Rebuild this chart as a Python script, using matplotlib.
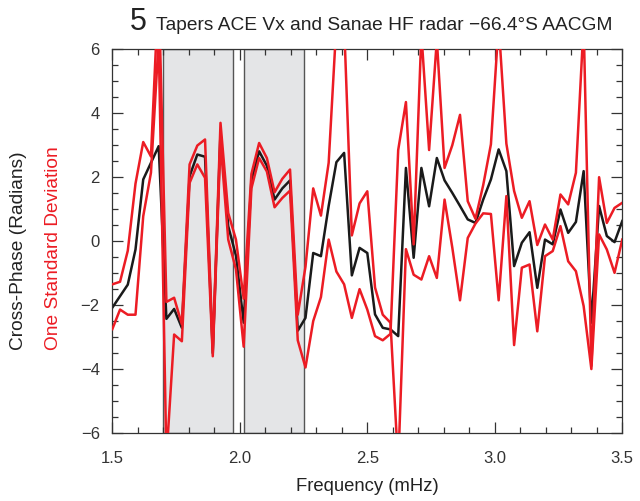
import numpy as np
import matplotlib
matplotlib.use("Agg")
import matplotlib.pyplot as plt
from matplotlib.ticker import MultipleLocator

# frequency grid (mHz), 67 evenly spaced bins from 1.5 to 3.5
freq = np.linspace(1.5, 3.5, 67)

# cross-phase (radians)
phase = [-2.08, -1.72, -1.36, -0.26, 1.93, 2.45, 2.97, -2.43, -2.12, -2.71,
         2.03, 2.71, 2.64, -3.50, 3.40, 0.47, -0.45, -2.55, 1.90, 2.81,
         2.36, 1.30, 1.65, 1.90, -2.80, -2.40, -0.37, -0.47, 1.10, 2.47,
         2.76, -1.07, -0.21, -0.37, -2.29, -2.71, -2.76, -2.97, 2.29, -0.52,
         2.29, 1.09, 2.60, 1.90, 1.51, 1.10, 0.68, 0.57, 1.30, 1.93,
         2.87, 2.19, -0.78, -0.05, 0.28, -1.46, 0.05, -0.10, 0.99, 0.26,
         0.60, 2.19, -2.55, 1.10, 0.16, -0.03, 0.63]

# one standard deviation curves
sd_1 = [-1.35, -1.27, -0.30, 1.80, 3.10, 2.65, 8.00, -1.90, -1.77, -2.60,
        2.40, 2.99, 3.18, -3.40, 3.70, 0.88, 0.05, -1.80, 2.10, 3.07,
        2.60, 1.53, 1.95, 2.24, -2.30, -0.80, 1.65, 0.80, 2.45, 6.80,
        6.80, 0.18, 1.18, 1.56, -1.45, -2.30, -2.55, -7.00, -0.25, -1.05,
        -1.20, -0.47, -1.15, 1.30, -0.20, -1.85, 0.10, 0.55, 0.87, 0.85,
        -1.85, 1.41, -3.25, -0.83, -0.73, -2.82, -0.47, -0.31, 0.47, -0.63,
        -0.94, -2.03, -4.00, 0.21, -0.26, -0.99, 0.05]
sd_2 = [-2.75, -2.14, -2.30, -2.30, 0.78, 2.14, 6.30, -6.80, -2.92, -3.13,
        1.82, 2.40, 1.98, -3.60, 3.10, 0.05, -0.88, -3.30, 1.65, 2.60,
        2.18, 1.06, 1.35, 1.58, -3.10, -3.95, -2.50, -1.75, 0.05, -0.95,
        -1.35, -2.40, -1.50, -2.14, -2.97, -3.10, -2.90, 2.85, 4.35, -0.10,
        6.50, 2.85, 6.30, 2.29, 3.00, 3.95, 1.25, 0.70, 1.75, 3.03,
        6.80, 3.05, 1.57, 0.73, 1.25, -0.12, 0.52, 0.05, 1.46, 1.15,
        2.14, 6.80, -3.90, 2.00, 0.57, 1.04, 1.20]

# shaded frequency bands
bands = [(1.70, 1.972), (2.018, 2.25)]

red = '#ec1c24'
tick_col = '#333333'

fig = plt.figure(figsize=(6.4, 5.01), dpi=100)
ax = fig.add_axes([0.1755, 0.1357, 0.7968, 0.7659])

for lo, hi in bands:
    ax.axvspan(lo, hi, facecolor='#e4e5e7', edgecolor='#555555', linewidth=1.0, zorder=0)

ax.plot(freq, phase, color='#1a1a1a', linewidth=1.8, zorder=2)
ax.plot(freq, sd_1, color=red, linewidth=1.8, zorder=3)
ax.plot(freq, sd_2, color=red, linewidth=1.8, zorder=3)

ax.set_xlim(1.5, 3.5)
ax.set_ylim(-6, 6)
ax.xaxis.set_major_locator(MultipleLocator(0.5))
ax.xaxis.set_minor_locator(MultipleLocator(0.1))
ax.yaxis.set_major_locator(MultipleLocator(2))
ax.yaxis.set_minor_locator(MultipleLocator(0.5))
ax.set_xticks([1.5, 2.0, 2.5, 3.0, 3.5])
ax.set_xticklabels(['1.5', '2.0', '2.5', '3.0', '3.5'])
ax.tick_params(which='both', direction='in', top=True, right=True,
               colors=tick_col, labelcolor=tick_col, width=0.9)
ax.tick_params(which='major', length=8, labelsize=12)
ax.tick_params(which='minor', length=4)
ax.tick_params(axis='x', which='major', pad=13)
ax.tick_params(axis='y', which='major', pad=9)
for lab in ax.get_xticklabels() + ax.get_yticklabels():
    lab.set_family('Liberation Sans')
for sp in ax.spines.values():
    sp.set_color('#333333')
    sp.set_linewidth(0.9)

fig.text(0.574, 0.028, 'Frequency (mHz)', ha='center', va='center',
         fontsize=13.3, family='Liberation Sans', color='#222222')
fig.text(0.029, 0.50, 'Cross-Phase (Radians)', rotation=90, ha='center', va='center',
         fontsize=13.8, family='Liberation Sans', color='#222222')
fig.text(0.083, 0.505, 'One Standard Deviation', rotation=90, ha='center', va='center',
         fontsize=13.8, family='Liberation Sans', color=red)

fig.text(0.203, 0.940, '5', ha='left', va='baseline', fontsize=22,
         family='Liberation Sans', color='#222222')
fig.text(0.244, 0.940, 'Tapers ACE Vx and Sanae HF radar \u221266.4\u00b0S AACGM',
         ha='left', va='baseline', fontsize=13.8,
         family='Liberation Sans', color='#222222')

fig.savefig('out.png', dpi=100)
